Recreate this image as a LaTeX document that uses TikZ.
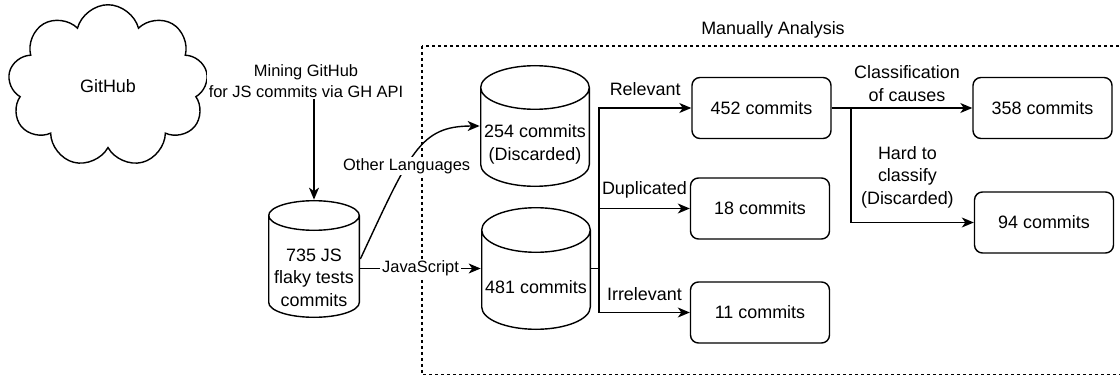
\documentclass[tikz,border=0pt]{standalone}
\usepackage{fontspec}
\setmainfont{Liberation Sans}
\usetikzlibrary{shapes.symbols,arrows.meta,positioning,calc}
\begin{document}
\begin{tikzpicture}[x=1.0cm,y=1.0cm,
	font=\fontsize{10.2pt}{12.8pt}\selectfont,
	small/.style={font=\fontsize{9.35pt}{11.6pt}\selectfont},
	box/.style={draw,rounded corners=0.16cm,minimum width=2.78cm,minimum height=1.22cm,line width=0.8pt},
	db/.style={inner sep=0pt,path picture={
		\draw [line width=0.8pt] let \p1=(path picture bounding box.south west),\p2=(path picture bounding box.north east),\n1={(\x2-\x1)/2-0.4pt},\n2={#1} in
		(\x1+0.4pt,\y2-\n2) -- (\x1+0.4pt,\y1+\n2) arc[start angle=180,end angle=360,x radius=\n1,y radius=\n2-0.4pt] -- (\x2-0.4pt,\y2-\n2)
		(\x1/2+\x2/2,\y2-\n2) ellipse [x radius=\n1,y radius=\n2-0.4pt];}},
	dbtext/.style={align=center,yshift=-0.37cm},
	arr/.style={-{Stealth[length=0.24cm,width=0.2cm,inset=0.07cm]},line width=0.8pt},
	lbl/.style={small,fill=white,inner sep=1pt,align=center}]
	\useasboundingbox (0,0) rectangle (22.4,7.5);
	\draw [dash pattern=on 0.06cm off 0.06cm,line width=0.6pt] (8.44,6.58) rectangle (22.7,0.01);
	\node (ma) at (15.46,6.9) {Manually Analysis};
	\node [cloud,draw,cloud puffs=9,line width=0.8pt,minimum width=4.0cm,minimum height=3.25cm] (gh) at (2.16,5.78) {GitHub};
	\node [db=0.31cm,minimum width=1.84cm,minimum height=2.36cm,label={[dbtext]center:735 JS\\flaky tests\\commits}] (c735) at (6.28,2.32) {};
	\node [db=0.45cm,minimum width=2.2cm,minimum height=2.44cm,label={[dbtext]center:254 commits\\(Discarded)}] (c254) at (10.70,4.98) {};
	\node [db=0.46cm,minimum width=2.2cm,minimum height=2.46cm,label={[dbtext]center:481 commits}] (c481) at (10.72,2.13) {};
	\node [box] (b452) at (15.23,5.34) {452 commits};
	\node [box] (b18) at (15.20,3.33) {18 commits};
	\node [box] (b11) at (15.20,1.25) {11 commits};
	\node [box] (b358) at (20.85,5.34) {358 commits};
	\node [box] (b94) at (20.88,3.05) {94 commits};
	\coordinate (sp1) at (11.98,2.13);
	\coordinate (sp2) at (17.02,5.34);
	\draw [arr] ([yshift=0.1cm]gh.east) -| node[lbl,pos=0.5,xshift=-0.16cm] {Mining GitHub\\for JS commits via GH API} (c735.north);
	\draw [arr] (c735.east) .. controls +(1.0,2.14) and +(-1.2,0) .. node[lbl,pos=0.4] {Other Languages} (c254.west);
	\draw [arr] (c481.west -| c735.east) -- node[lbl] {JavaScript} (c481.west);
	\draw [line width=0.8pt] (c481.east) -- (sp1);
	\draw [arr] (sp1) |- node[above,pos=0.75,yshift=0.12cm] {Relevant} (b452.west);
	\draw [arr] (sp1) |- node[above,pos=0.75,yshift=0.08cm] {Duplicated} (b18.west);
	\draw [arr] (sp1) |- node[above,pos=0.75,yshift=0.1cm] {Irrelevant} (b11.west);
	\draw [arr] (b452.east) -- node[above,align=center,xshift=0.1cm] {Classification\\of causes} (b358.west);
	\draw [arr] (sp2) |- node[above,pos=0.75,align=center,yshift=0.16cm,xshift=-0.1cm] {Hard to\\classify\\(Discarded)} (b94.west);
\end{tikzpicture}
\end{document}
